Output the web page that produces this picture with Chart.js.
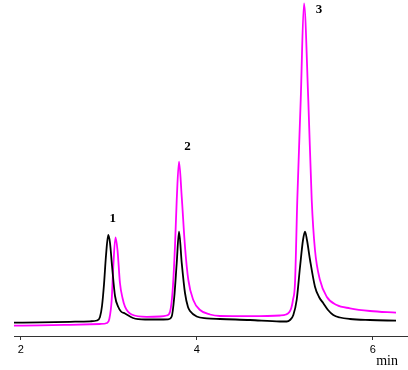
<!DOCTYPE html>
<html>
<head>
<meta charset="utf-8">
<script src="https://cdn.jsdelivr.net/npm/chart.js@4"></script>
<style>
  body { margin: 0; background: #fff; }
  canvas { display: block; }
</style>
</head>
<body>
<canvas id="myChart" width="408" height="370"></canvas>
<script>
// retention time (min) and detector signal
const blackTime = [1.924, 2.219, 2.560, 2.788, 2.867, 2.901, 2.924, 2.947, 2.969, 2.995,
  3.015, 3.038, 3.072, 3.109, 3.140, 3.185, 3.276, 3.413, 3.583, 3.674,
  3.716, 3.745, 3.773, 3.799, 3.830, 3.867, 3.901, 3.924, 4.000, 4.114,
  4.265, 4.606, 4.947, 5.023, 5.060, 5.098, 5.136, 5.174, 5.208, 5.231,
  5.253, 5.288, 5.344, 5.390, 5.439, 5.492, 5.552, 5.628, 5.742, 5.969, 6.265];
const blackSignal = [13.3, 13.6, 14.2, 14.7, 15.5, 19, 30, 52, 80, 101,
  93, 70, 40, 29, 24.5, 22.5, 18, 16.5, 16.5, 16.7,
  19.5, 39, 73, 104.3, 73, 43, 29, 25, 19.5, 17.7,
  17, 16, 14.5, 14.5, 16, 21, 36, 69, 96, 104.3,
  96, 76, 49.3, 39, 32.7, 26, 21, 18.5, 17, 16, 15.3];

const magentaTime = [1.924, 2.219, 2.560, 2.901, 2.981, 3.007, 3.034, 3.052, 3.077, 3.100,
  3.128, 3.157, 3.185, 3.261, 3.432, 3.583, 3.659, 3.697, 3.727, 3.753,
  3.773, 3.799, 3.830, 3.867, 3.905, 3.961, 4.038, 4.151, 4.265, 4.606,
  4.947, 5.015, 5.049, 5.075, 5.094, 5.117, 5.143, 5.182, 5.219, 5.268,
  5.307, 5.344, 5.401, 5.477, 5.591, 5.742, 5.969, 6.265];
const magentaSignal = [10.3, 10.6, 11.2, 12, 13, 17, 36, 69, 98.7, 86,
  53, 38, 29.3, 21.5, 19.2, 19.5, 20.5, 24.3, 46, 89.3,
  136, 174.3, 139, 89.3, 56, 36, 26, 21.5, 20, 19.8,
  20.5, 21.5, 23.5, 28, 36, 53, 136, 236, 332.5, 236,
  136, 86, 56, 39.3, 31, 27.7, 25, 23.3];

const peakLabels = ['1', '2', '3'];
const peakLabelTime = [3.045, 3.895, 5.390];
const peakLabelSignal = [117, 189, 326];

const xTicks = [2, 4, 6];

function toPoints(xs, ys) {
  return xs.map((x, i) => ({ x: x, y: ys[i] }));
}

const peakLabelPlugin = {
  id: 'peakLabels',
  afterDatasetsDraw(chart) {
    const ctx = chart.ctx;
    const xs = chart.scales.x;
    const ys = chart.scales.y;
    ctx.save();
    ctx.fillStyle = '#000';
    ctx.textAlign = 'center';
    ctx.textBaseline = 'middle';
    ctx.font = 'bold 13px "Liberation Serif"';
    peakLabels.forEach((lab, i) => {
      ctx.fillText(lab, xs.getPixelForValue(peakLabelTime[i]), ys.getPixelForValue(peakLabelSignal[i]));
    });
    // axis unit
    ctx.font = '14px "Liberation Serif"';
    ctx.textAlign = 'right';
    ctx.fillText('min', 398, 361);
    ctx.restore();
  }
};

const ctx = document.getElementById('myChart');

new Chart(ctx, {
  type: 'line',
  data: {
    datasets: [{
      label: 'sample A',
      data: toPoints(blackTime, blackSignal),
      borderColor: '#000',
      borderWidth: 1.8,
      pointRadius: 0,
      cubicInterpolationMode: 'monotone',
      fill: false
    }, {
      label: 'sample B',
      data: toPoints(magentaTime, magentaSignal),
      borderColor: '#ff00ff',
      borderWidth: 1.8,
      pointRadius: 0,
      cubicInterpolationMode: 'monotone',
      fill: false
    }]
  },
  options: {
    responsive: false,
    animation: false,
    devicePixelRatio: 1,
    layout: { padding: { left: 14, right: 0, top: 0, bottom: 0 } },
    plugins: {
      legend: { display: false },
      tooltip: { enabled: false }
    },
    scales: {
      x: {
        type: 'linear',
        min: 1.924,
        max: 6.401,
        afterFit: s => { s.height = 34; },
        afterBuildTicks: s => { s.ticks = xTicks.map(v => ({ value: v })); },
        ticks: {
          color: '#000',
          padding: 3,
          font: { family: '"Liberation Sans"', size: 11 }
        },
        grid: {
          drawOnChartArea: false,
          tickLength: 4,
          color: '#333'
        },
        border: { color: '#333', width: 1 }
      },
      y: {
        display: false,
        min: 0,
        max: 336
      }
    }
  },
  plugins: [peakLabelPlugin]
});
</script>
</body>
</html>
